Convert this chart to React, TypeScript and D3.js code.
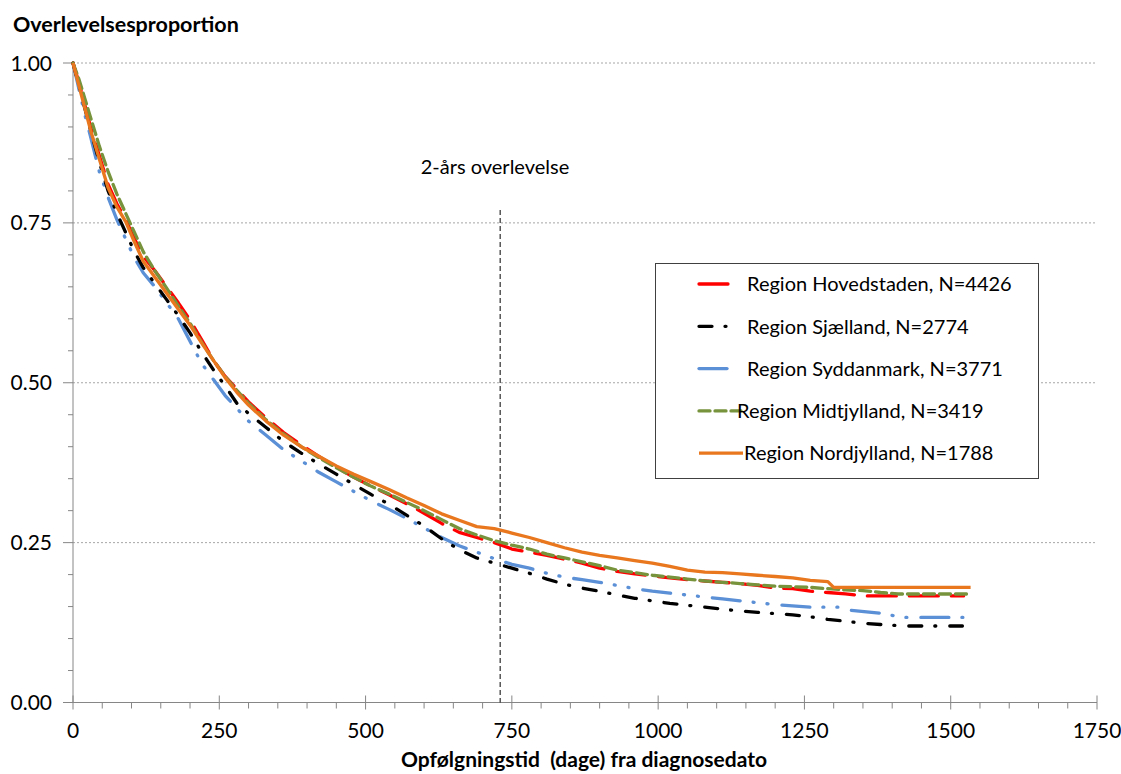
import React from "react";
import * as d3 from "d3";

const W = 1121;
const H = 774;

const xTicks = [0, 250, 500, 750, 1000, 1250, 1500, 1750];
const yTicks = [0, 0.25, 0.5, 0.75, 1.0];

const tHoved = [0,10,20,30,45,60,75,90,105,120,140,160,180,200,220,240,260,280,300,330,360,390,420,450,480,510,540,570,600,630,660,690,720,750,780,810,840,870,900,930,960,990,1020,1050,1080,1110,1140,1170,1200,1230,1260,1290,1320,1350,1522];
const sHoved = [1.0,0.97,0.935,0.9,0.855,0.81,0.78,0.755,0.725,0.698,0.675,0.65,0.625,0.598,0.567,0.535,0.51,0.49,0.47,0.445,0.422,0.403,0.385,0.368,0.352,0.338,0.325,0.311,0.296,0.28,0.266,0.258,0.25,0.24,0.235,0.23,0.224,0.218,0.21,0.205,0.201,0.198,0.195,0.192,0.19,0.188,0.186,0.183,0.179,0.178,0.174,0.172,0.17,0.1666,0.1666];

const tSjael = [0,10,20,30,45,60,75,90,105,120,140,160,180,200,220,240,260,280,300,330,360,390,420,450,480,510,540,570,600,630,660,690,720,750,780,810,840,870,900,930,960,990,1020,1050,1080,1110,1140,1170,1200,1230,1260,1290,1320,1350,1380,1420,1520];
const sSjael = [1.0,0.965,0.93,0.895,0.845,0.8,0.765,0.735,0.705,0.68,0.655,0.63,0.605,0.578,0.548,0.52,0.495,0.468,0.452,0.43,0.408,0.39,0.373,0.357,0.341,0.325,0.31,0.293,0.276,0.256,0.239,0.226,0.218,0.21,0.202,0.193,0.185,0.179,0.174,0.168,0.163,0.159,0.155,0.152,0.149,0.146,0.143,0.141,0.139,0.137,0.134,0.13,0.127,0.124,0.122,0.1196,0.1196];

const tSyd = [0,10,20,30,45,60,75,90,105,120,140,160,180,200,220,240,260,280,300,330,360,390,420,450,480,510,540,570,600,630,660,690,720,750,780,810,840,870,900,930,960,990,1020,1050,1080,1110,1140,1170,1200,1260,1308,1320,1380,1420,1540];
const sSyd = [1.0,0.96,0.92,0.885,0.83,0.79,0.755,0.725,0.695,0.672,0.65,0.625,0.6,0.565,0.53,0.505,0.48,0.46,0.44,0.418,0.395,0.378,0.36,0.345,0.33,0.315,0.302,0.288,0.273,0.258,0.245,0.235,0.225,0.216,0.21,0.202,0.196,0.192,0.188,0.183,0.178,0.174,0.171,0.168,0.165,0.162,0.159,0.156,0.153,0.149,0.149,0.145,0.1395,0.133,0.133];

const tMidt = [0,10,20,30,45,60,75,90,105,120,140,160,180,200,220,240,260,280,300,330,360,390,420,450,480,510,540,570,600,630,660,690,720,750,780,810,840,870,900,930,960,990,1020,1050,1080,1110,1140,1170,1200,1230,1260,1290,1320,1350,1380,1410,1534];
const sMidt = [1.0,0.975,0.945,0.915,0.87,0.83,0.795,0.765,0.735,0.705,0.675,0.648,0.62,0.593,0.563,0.535,0.51,0.488,0.468,0.442,0.42,0.4,0.383,0.367,0.352,0.338,0.326,0.313,0.3,0.286,0.272,0.262,0.253,0.246,0.24,0.232,0.226,0.22,0.214,0.207,0.203,0.199,0.196,0.193,0.19,0.188,0.186,0.184,0.182,0.181,0.18,0.178,0.176,0.175,0.172,0.1697,0.1697];

const tNord = [0,10,20,30,45,60,75,90,105,120,140,160,180,200,220,240,260,280,300,330,360,390,420,450,480,510,540,570,600,630,660,690,720,750,780,810,840,870,900,930,960,990,1020,1050,1080,1110,1140,1170,1200,1230,1260,1290,1300,1534];
const sNord = [1.0,0.965,0.93,0.895,0.85,0.805,0.775,0.752,0.72,0.69,0.665,0.64,0.615,0.59,0.562,0.535,0.508,0.485,0.465,0.44,0.418,0.4,0.385,0.37,0.357,0.345,0.333,0.32,0.308,0.295,0.285,0.275,0.272,0.265,0.258,0.25,0.242,0.235,0.23,0.226,0.222,0.218,0.213,0.207,0.204,0.203,0.201,0.199,0.197,0.195,0.191,0.189,0.18,0.18];

const seriesNames = [
  "Region Hovedstaden, N=4426",
  "Region Sjælland, N=2774",
  "Region Syddanmark, N=3771",
  "Region Midtjylland, N=3419",
  "Region Nordjylland, N=1788",
];

const seriesDefs = [
  { name: seriesNames[0], t: tHoved, s: sHoved, color: "#FF0000", dash: "29 13", legendLen: 29, legendTextX: 747 },
  { name: seriesNames[1], t: tSjael, s: sSjael, color: "#000000", dash: "13 13 1 14", legendLen: 29, legendTextX: 747 },
  { name: seriesNames[2], t: tSyd, s: sSyd, color: "#5B8FD6", dash: "28 13 1 13 1 14", legendLen: 29, legendTextX: 747 },
  { name: seriesNames[3], t: tMidt, s: sMidt, color: "#77933C", dash: "11 5", legendLen: 42, legendTextX: 737 },
  { name: seriesNames[4], t: tNord, s: sNord, color: "#E8771E", dash: "", legendLen: 44, legendTextX: 744 },
];

const drawOrder = [2, 1, 0, 3, 4];

export default function App() {
  const x = d3.scaleLinear().domain([0, 1750]).range([73, 1097]);
  const y = d3.scaleLinear().domain([0, 1]).range([702.5, 63]);
  const line = d3
    .line<[number, number]>()
    .x((d) => x(d[0]))
    .y((d) => y(d[1]))
    .curve(d3.curveLinear);

  const xMinor = d3.range(0, 1751, 50).filter((v) => v % 250 !== 0);
  const yMinor = d3.range(0, 1.0001, 0.05).filter((v) => Math.abs(v * 4 - Math.round(v * 4)) > 1e-6);

  const font = "Lato, 'Open Sans', sans-serif";
  const axisColor = "#868686";

  return (
    <svg width={W} height={H} style={{ position: "absolute", left: 0, top: 0, background: "#fff" }} fontFamily={font}>
      <rect x={0} y={0} width={W} height={H} fill="#fff" />
      {yTicks.filter((v) => v > 0).map((v) => (
        <line key={"g" + v} x1={x(0)} x2={x(1750)} y1={y(v)} y2={y(v)} stroke="#A6A6A6" strokeWidth={1} strokeDasharray="2 2" />
      ))}
      <line x1={x(0)} x2={x(0)} y1={y(0)} y2={y(1)} stroke={axisColor} strokeWidth={1} />
      <line x1={x(0)} x2={x(1750)} y1={y(0)} y2={y(0)} stroke={axisColor} strokeWidth={1} />
      {yTicks.map((v) => (
        <line key={"yt" + v} x1={x(0) - 10} x2={x(0)} y1={y(v)} y2={y(v)} stroke={axisColor} strokeWidth={1} />
      ))}
      {yMinor.map((v) => (
        <line key={"ym" + v} x1={x(0) - 5} x2={x(0)} y1={y(v)} y2={y(v)} stroke={axisColor} strokeWidth={1} />
      ))}
      {xTicks.map((v) => (
        <line key={"xt" + v} x1={x(v)} x2={x(v)} y1={y(0) - 7} y2={y(0) + 7} stroke={axisColor} strokeWidth={1} />
      ))}
      {xMinor.map((v) => (
        <line key={"xm" + v} x1={x(v)} x2={x(v)} y1={y(0)} y2={y(0) + 6} stroke={axisColor} strokeWidth={1} />
      ))}
      {yTicks.map((v) => (
        <text key={"yl" + v} x={52} y={y(v)} dy="0.36em" textAnchor="end" fontSize={21} fill="#000">
          {v.toFixed(2)}
        </text>
      ))}
      {xTicks.map((v) => (
        <text key={"xl" + v} x={x(v)} y={738} textAnchor="middle" fontSize={21} fill="#000">
          {v}
        </text>
      ))}
      <line x1={x(730)} x2={x(730)} y1={210} y2={y(0)} stroke="#000" strokeWidth={1} strokeDasharray="5 3" />
      <text x={495} y={174} textAnchor="middle" fontSize={20} fill="#000">2-års overlevelse</text>
      {drawOrder.map((i) => {
        const sd = seriesDefs[i];
        const pts: [number, number][] = sd.t.map((t, k) => [t, sd.s[k]]);
        return (
          <path
            key={sd.name}
            d={line(pts) || ""}
            fill="none"
            stroke={sd.color}
            strokeWidth={3.3}
            strokeDasharray={sd.dash || undefined}
            strokeLinecap={sd.dash ? "round" : "butt"}
            strokeLinejoin="round"
          />
        );
      })}
      <rect x={655.5} y={263.5} width={383} height={215} fill="#fff" stroke="#404040" strokeWidth={1} />
      {seriesDefs.map((sd, i) => {
        const cy = 284 + i * 42.3;
        return (
          <g key={"lg" + i}>
            <line
              x1={699}
              x2={699 + sd.legendLen}
              y1={cy}
              y2={cy}
              stroke={sd.color}
              strokeWidth={3.3}
              strokeDasharray={sd.dash || undefined}
              strokeLinecap={sd.dash ? "round" : "butt"}
            />
            <text x={sd.legendTextX} y={cy} dy="0.36em" fontSize={20} fill="#000">
              {sd.name}
            </text>
          </g>
        );
      })}
      <text x={13} y={32} fontSize={21.5} fontWeight="bold" fill="#000">Overlevelsesproportion</text>
      <text x={584} y={767} textAnchor="middle" fontSize={21} fontWeight="bold" fill="#000" style={{ whiteSpace: "pre" }}>
        {"Opfølgningstid  (dage) fra diagnosedato"}
      </text>
    </svg>
  );
}
